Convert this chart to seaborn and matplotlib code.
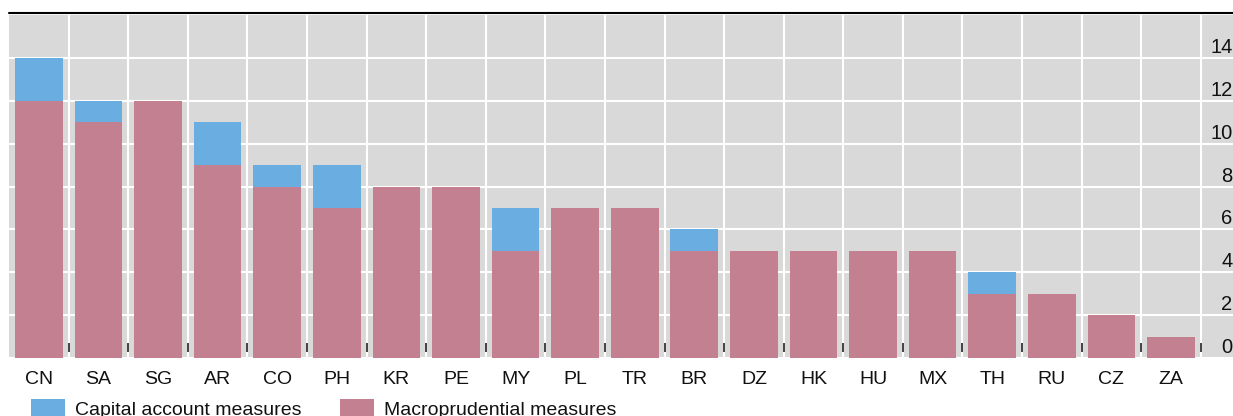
import matplotlib
matplotlib.use("Agg")
import matplotlib.pyplot as plt
import matplotlib.transforms as mtransforms
from matplotlib.lines import Line2D
import numpy as np
import pandas as pd
import seaborn as sns

# Data
countries = ["CN", "SA", "SG", "AR", "CO", "PH", "KR", "PE", "MY", "PL",
             "TR", "BR", "DZ", "HK", "HU", "MX", "TH", "RU", "CZ", "ZA"]
macroprudential = [12, 11, 12, 9, 8, 7, 8, 8, 5, 7, 7, 5, 5, 5, 5, 5, 3, 3, 2, 1]
capital_account = [2, 1, 0, 2, 1, 2, 0, 0, 2, 0, 0, 1, 0, 0, 0, 0, 1, 0, 0, 0]
y_ticks = [0, 2, 4, 6, 8, 10, 12, 14]

BLUE = "#6aade0"
PINK = "#c38090"
BG = "#d9d9d9"

df = pd.DataFrame({"country": countries,
                   "macro": macroprudential,
                   "capital": capital_account})
df["total"] = df["macro"] + df["capital"]

sns.set_style("white")
plt.rcParams["font.family"] = ["Liberation Sans", "DejaVu Sans"]

fig = plt.figure(figsize=(12.33, 4.16), dpi=100)
ax = fig.add_axes([9 / 1233, 58 / 416, 1 - 9 / 1233, (358 - 15) / 416])
ax.set_facecolor(BG)

# stacked: total in blue, macro in pink on top
sns.barplot(data=df, x="country", y="total", color=BLUE, saturation=1,
            width=0.8, linewidth=0, ax=ax, label="Capital account measures")
sns.barplot(data=df, x="country", y="macro", color=PINK, saturation=1,
            width=0.8, linewidth=0, ax=ax, label="Macroprudential measures")

ax.set_xlim(-0.5, 20.04)
ax.set_ylim(0, 16)
for s in ax.spines.values():
    s.set_visible(False)

# grid
ax.set_axisbelow(True)
ax.set_yticks(y_ticks)
ax.set_yticklabels([])
ax.tick_params(axis="y", length=0)
ax.set_xticks(np.arange(len(countries)) + 0.5, minor=True)
ax.tick_params(axis="x", which="minor", length=0)
ax.grid(True, axis="y", which="major", color="white", lw=1.5)
ax.grid(True, axis="x", which="minor", color="white", lw=1.5)
ax.grid(False, axis="x", which="major")

ax.set_xlabel("")
ax.set_ylabel("")
ax.tick_params(axis="x", which="major", length=0, pad=9, labelsize=14,
               labelcolor="#111111")

# small ticks between categories
trans = mtransforms.blended_transform_factory(ax.transData, ax.transAxes)
ax.vlines(np.arange(len(countries)) + 0.5, 0.018, 0.043, colors="#222222",
          lw=1.2, transform=trans, zorder=5)

# right-side value labels inside the plot area
lab_trans = mtransforms.offset_copy(
    mtransforms.blended_transform_factory(ax.transAxes, ax.transData),
    fig=fig, x=0, y=5, units="dots")
for v in y_ticks:
    ax.text(0.9995, v, str(v), transform=lab_trans, ha="right", va="baseline",
            fontsize=14.5, color="#111111")

# top rule
fig.add_artist(Line2D([9 / 1233, 1], [1 - 12.7 / 416] * 2, color="black", lw=1.5))

if ax.get_legend():
    ax.get_legend().remove()
handles, labels = ax.get_legend_handles_labels()
fig.legend(handles, labels, loc="upper left", bbox_to_anchor=(31 / 1233, 1 - 399 / 416),
           ncol=2, frameon=False, fontsize=14, borderpad=0, borderaxespad=0,
           handlelength=1.75, handleheight=1.1, handletextpad=0.5, columnspacing=2.0,
           labelcolor="#111111")

fig.savefig("out.png", dpi=100)
